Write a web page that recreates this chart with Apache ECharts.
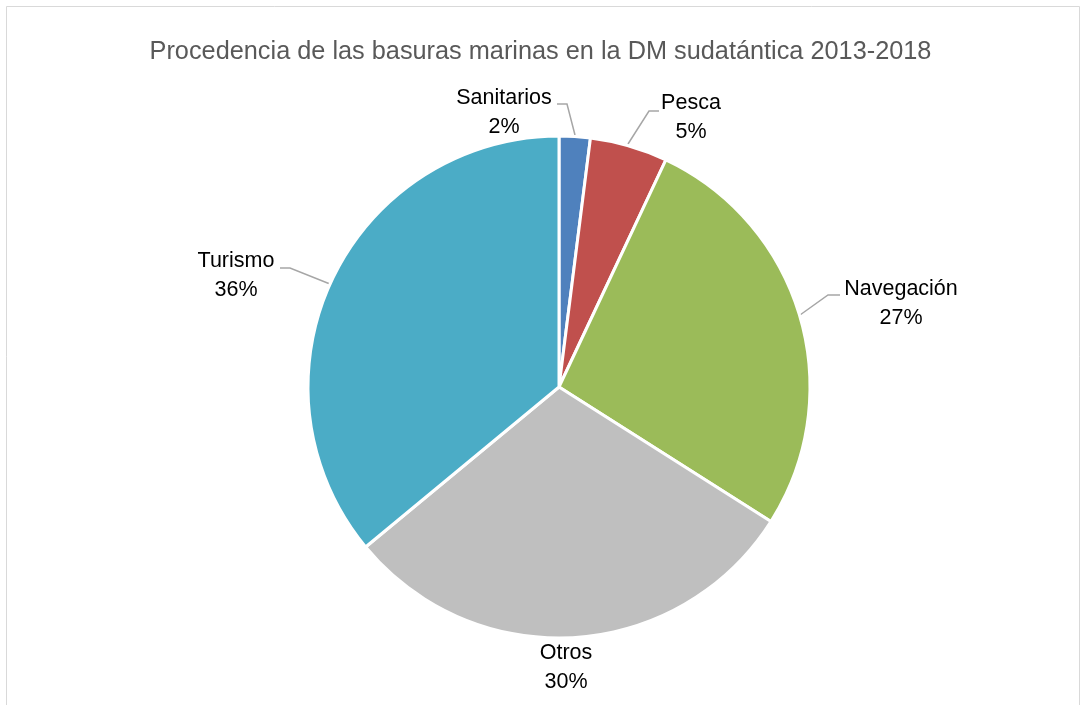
<!DOCTYPE html>
<html>
<head>
<meta charset="utf-8">
<script src="https://cdn.jsdelivr.net/npm/echarts@6/dist/echarts.min.js"></script>
<style>
  html, body { margin: 0; padding: 0; background: #ffffff; }
  #chart { width: 1081px; height: 705px; }
</style>
</head>
<body>
<div id="chart"></div>
<script>
// Sources of marine litter, percentage share
const categories = ['Sanitarios', 'Pesca', 'Navegación', 'Otros', 'Turismo'];
const shares = [2, 5, 27, 30, 36];
const sliceColors = ['#4F81BD', '#C0504D', '#9BBB59', '#BFBFBF', '#4BACC6'];

// Label block centres and leader-line paths per slice
const labelSpots = [
  { x: 504, y: 113, line: [[557, 104], [567, 104], [575, 135]] },
  { x: 691, y: 118, line: [[659, 111], [649, 111], [628, 144]] },
  { x: 901, y: 304, line: [[840, 295], [828, 295], [800, 315]] },
  { x: 566, y: 668, line: null },
  { x: 236, y: 276, line: [[280, 268], [290, 268], [330, 284]] }
];

const chart = echarts.init(document.getElementById('chart'), null, { renderer: 'canvas' });

chart.setOption({
  backgroundColor: '#ffffff',
  animation: false,
  graphic: [{
    type: 'rect',
    shape: { x: 6.5, y: 6.5, width: 1073, height: 720 },
    style: { fill: 'none', stroke: '#d9d9d9', lineWidth: 1 },
    silent: true
  }],
  title: {
    text: 'Procedencia de las basuras marinas en la DM sudatántica 2013-2018',
    left: 'center',
    top: 35,
    textStyle: {
      fontFamily: 'Liberation Sans',
      fontSize: 25.3,
      fontWeight: 'normal',
      color: '#595959'
    }
  },
  series: [{
    type: 'pie',
    center: [559, 387],
    radius: [0, 251],
    startAngle: 90,
    clockwise: true,
    data: categories.map((name, i) => ({
      name: name,
      value: shares[i],
      itemStyle: { color: sliceColors[i] },
      labelLine: { show: labelSpots[i].line !== null }
    })),
    itemStyle: { borderColor: '#ffffff', borderWidth: 3 },
    label: {
      show: true,
      formatter: p => p.name + '\n' + p.value + '%',
      fontFamily: 'Liberation Sans',
      fontSize: 21.5,
      lineHeight: 29,
      color: '#000000',
      align: 'center'
    },
    labelLine: {
      show: true,
      lineStyle: { color: '#A6A6A6', width: 1.5 }
    },
    labelLayout: function (params) {
      const s = labelSpots[params.dataIndex];
      const out = { x: s.x, y: s.y, align: 'center', verticalAlign: 'middle' };
      if (s.line) {
        out.labelLinePoints = s.line;
      }
      return out;
    },
    emphasis: { disabled: true }
  }]
});
</script>
</body>
</html>
